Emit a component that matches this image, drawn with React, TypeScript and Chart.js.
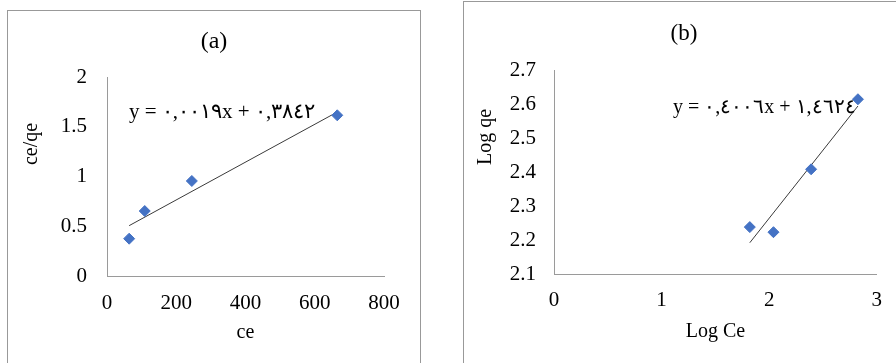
import React, { useEffect, useRef } from "react";
import { Chart, registerables } from "chart.js";

Chart.register(...registerables);

// ---- Chart (a) data ----
const titleA = "(a)";
const xLabelA = "ce";
const yLabelA = "ce/qe";
const equationA = "y = ٠,٠٠١٩x + ٠,٣٨٤٢";
const ceA = [64, 109, 245, 665];
const ceqeA = [0.375, 0.653, 0.955, 1.615];
const trendXA = [64, 665];
const trendYA = [0.506, 1.648];
const xTicksA = ["0", "200", "400", "600", "800"];
const yTicksA = ["0", "0.5", "1", "1.5", "2"];

// ---- Chart (b) data ----
const titleB = "(b)";
const xLabelB = "Log Ce";
const yLabelB = "Log qe";
const equationB = "y = ٠,٤٠٠٦x + ١,٤٦٢٤";
const logCeB = [1.82, 2.04, 2.39, 2.825];
const logQeB = [2.238, 2.223, 2.408, 2.614];
const trendXB = [1.82, 2.825];
const trendYB = [2.192, 2.594];
const xTicksB = ["0", "1", "2", "3"];
const yTicksB = ["2.1", "2.2", "2.3", "2.4", "2.5", "2.6", "2.7"];

const FONT = "'Liberation Serif', 'Times New Roman', serif";
const BLUE = "#4472C4";
const AXIS = "#9a9a9a";

type Cfg = {
  title: string;
  xLabel: string;
  yLabel: string;
  equation: string;
  xs: number[];
  ys: number[];
  tx: number[];
  ty: number[];
  xTicks: string[];
  yTicks: string[];
  width: number;
  height: number;
  area: { left: number; right: number; top: number; bottom: number };
  yTickPad: number;
  xTickPad: number;
  xTitlePad: number;
  titleSize: number;
  titlePos: [number, number];
  yTitlePos: [number, number];
  eqPos: [number, number];
  eqSize: number;
};

function ScatterBox({ cfg }: { cfg: Cfg }) {
  const ref = useRef<HTMLCanvasElement>(null);
  useEffect(() => {
    const canvas = ref.current!;
    const xVals = cfg.xTicks.map(Number);
    const yVals = cfg.yTicks.map(Number);
    const xScaleHeight = 80;
    const textPlugin = {
      id: "texts",
      afterDraw(chart: any) {
        const ctx = chart.ctx;
        ctx.save();
        ctx.fillStyle = "#000";
        ctx.textAlign = "center";
        ctx.textBaseline = "middle";
        ctx.font = `${cfg.titleSize}px ${FONT}`;
        ctx.fillText(cfg.title, cfg.titlePos[0], cfg.titlePos[1]);
        ctx.font = `20px ${FONT}`;
        ctx.save();
        ctx.translate(cfg.yTitlePos[0], cfg.yTitlePos[1]);
        ctx.rotate(-Math.PI / 2);
        ctx.fillText(cfg.yLabel, 0, 0);
        ctx.restore();
        ctx.textAlign = "left";
        ctx.textBaseline = "alphabetic";
        ctx.font = `${cfg.eqSize}px ${FONT}`;
        ctx.fillText(cfg.equation, cfg.eqPos[0], cfg.eqPos[1]);
        ctx.restore();
      },
    };
    const chart = new Chart(canvas, {
      type: "scatter",
      data: {
        datasets: [
          {
            type: "line",
            data: cfg.tx.map((x, i) => ({ x, y: cfg.ty[i] })),
            borderColor: "#3a3a3a",
            borderWidth: 1,
            pointRadius: 0,
            fill: false,
            order: 2,
          } as any,
          {
            data: cfg.xs.map((x, i) => ({ x, y: cfg.ys[i] })),
            backgroundColor: BLUE,
            borderColor: BLUE,
            borderWidth: 1,
            pointStyle: "rectRot",
            pointRadius: 5.5,
            order: 1,
          },
        ],
      },
      options: {
        animation: false,
        responsive: false,
        maintainAspectRatio: false,
        layout: {
          padding: {
            left: 0,
            right: cfg.width - cfg.area.right,
            top: cfg.area.top,
            bottom: cfg.height - cfg.area.bottom - xScaleHeight,
          },
        },
        plugins: {
          legend: { display: false },
          title: { display: false },
          tooltip: { enabled: false },
        },
        scales: {
          x: {
            type: "linear",
            min: xVals[0],
            max: xVals[xVals.length - 1],
            afterFit: (s: any) => {
              s.height = xScaleHeight;
            },
            afterBuildTicks: (s: any) => {
              s.ticks = xVals.map((v) => ({ value: v }));
            },
            grid: { display: true, drawOnChartArea: false, drawTicks: false },
            border: { display: true, color: AXIS, width: 1 },
            ticks: {
              padding: cfg.xTickPad,
              color: "#000",
              font: { family: FONT, size: 21 },
              callback: (_v: any, i: number) => cfg.xTicks[i],
            },
            title: {
              display: true,
              text: cfg.xLabel,
              color: "#000",
              font: { family: FONT, size: 20 },
              padding: { top: 0, bottom: cfg.xTitlePad },
            },
          },
          y: {
            type: "linear",
            min: yVals[0],
            max: yVals[yVals.length - 1],
            afterFit: (s: any) => {
              s.width = cfg.area.left;
            },
            afterBuildTicks: (s: any) => {
              s.ticks = yVals.map((v) => ({ value: v }));
            },
            grid: { display: true, drawOnChartArea: false, drawTicks: false },
            border: { display: true, color: AXIS, width: 1 },
            ticks: {
              padding: cfg.yTickPad,
              color: "#000",
              font: { family: FONT, size: 21 },
              callback: (_v: any, i: number) => cfg.yTicks[i],
            },
          },
        },
      },
      plugins: [textPlugin],
    });
    return () => chart.destroy();
  }, [cfg]);
  return <canvas ref={ref} width={cfg.width} height={cfg.height} style={{ display: "block", width: cfg.width, height: cfg.height }} />;
}

const cfgA: Cfg = {
  title: titleA,
  xLabel: xLabelA,
  yLabel: yLabelA,
  equation: equationA,
  xs: ceA,
  ys: ceqeA,
  tx: trendXA,
  ty: trendYA,
  xTicks: xTicksA,
  yTicks: yTicksA,
  width: 412,
  height: 352,
  area: { left: 99, right: 376, top: 66, bottom: 265 },
  yTickPad: 20,
  xTickPad: 15,
  xTitlePad: 11,
  titleSize: 24,
  titlePos: [206, 31],
  yTitlePos: [24, 133],
  eqPos: [121, 107],
  eqSize: 21,
};

const cfgB: Cfg = {
  title: titleB,
  xLabel: xLabelB,
  yLabel: yLabelB,
  equation: equationB,
  xs: logCeB,
  ys: logQeB,
  tx: trendXB,
  ty: trendYB,
  xTicks: xTicksB,
  yTicks: yTicksB,
  width: 432,
  height: 361,
  area: { left: 90, right: 418, top: 68, bottom: 272 },
  yTickPad: 18,
  xTickPad: 14,
  xTitlePad: 10,
  titleSize: 23,
  titlePos: [220, 32],
  yTitlePos: [22, 135],
  eqPos: [209, 111],
  eqSize: 20,
};

export default function App() {
  return (
    <div style={{ position: "absolute", left: 0, top: 0, width: 896, height: 363, overflow: "hidden", background: "#fff" }}>
      <div style={{ position: "absolute", left: 7, top: 10, width: 412, height: 360, border: "1px solid #999", borderBottom: "none" }}>
        <ScatterBox cfg={cfgA} />
      </div>
      <div style={{ position: "absolute", left: 463, top: 1, width: 440, height: 370, border: "1px solid #999" }}>
        <ScatterBox cfg={cfgB} />
      </div>
    </div>
  );
}
